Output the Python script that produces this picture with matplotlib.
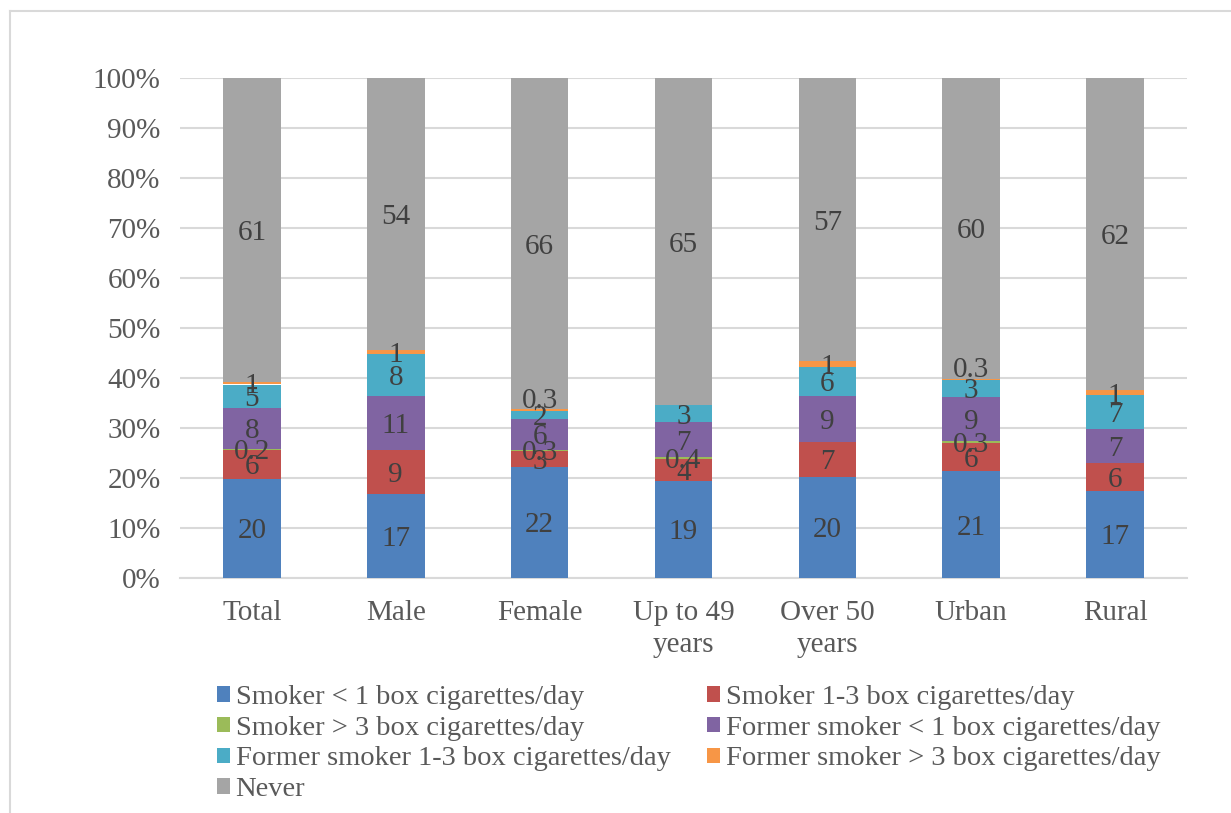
import numpy as np
import matplotlib
matplotlib.use("Agg")
import matplotlib.pyplot as plt
from matplotlib.patches import Patch

plt.rcParams['font.family'] = ['Liberation Serif', 'DejaVu Serif']

categories = ["Total", "Male", "Female", "Up to 49\nyears", "Over 50\nyears", "Urban", "Rural"]
series_names = [
    "Smoker < 1 box cigarettes/day",
    "Smoker 1-3 box cigarettes/day",
    "Smoker > 3 box cigarettes/day",
    "Former smoker < 1 box cigarettes/day",
    "Former smoker 1-3 box cigarettes/day",
    "Former smoker > 3 box cigarettes/day",
    "Never",
]
smoker_lt1 = [19.9, 16.9, 22.3, 19.4, 20.3, 21.4, 17.4]
smoker_1_3 = [5.8, 8.8, 3.1, 4.3, 7.0, 5.7, 5.6]
smoker_gt3 = [0.2, 0.0, 0.3, 0.4, 0.0, 0.3, 0.0]
former_lt1 = [8.1, 10.8, 6.2, 7.1, 9.2, 8.9, 6.7]
former_1_3 = [4.7, 8.3, 1.5, 3.3, 5.8, 3.3, 6.9]
former_gt3 = [0.5, 0.9, 0.3, 0.0, 1.1, 0.3, 0.9]
never = [60.8, 54.4, 66.3, 65.4, 56.6, 60.1, 62.4]

colors = ["#4F81BD", "#C0504D", "#9BBB59", "#8064A2", "#4BACC6", "#F79646", "#A5A5A5"]
text_col = "#595959"
grid_col = "#D9D9D9"


def fmt(v):
    if v < 0.45:
        return f"{v:.1f}"
    return str(int(v + 0.5))


data = np.array([smoker_lt1, smoker_1_3, smoker_gt3, former_lt1, former_1_3, former_gt3, never])
shares = data / data.sum(axis=0) * 100

fig = plt.figure(figsize=(12.31, 8.13), dpi=100)
ax = fig.add_axes([180 / 1231, 1 - 578 / 813, 1007 / 1231, 500 / 813])

x = np.arange(len(categories))
bottom = np.zeros(len(categories))
for i in range(len(series_names)):
    ax.bar(x, shares[i], 0.40, bottom=bottom, color=colors[i], zorder=3)
    for j in range(len(categories)):
        if data[i, j] > 0:
            ypos = bottom[j] + shares[i, j] / 2 - 0.6
            # tiny former-smoker labels sit a little above their sliver
            if i == 5 and data[i, j] < 0.45:
                ypos += 2.4
            ax.text(x[j], ypos, fmt(data[i, j]),
                    ha='center', va='center', fontsize=21, color="#404040", zorder=4)
    bottom += shares[i]

ax.set_xlim(-0.5, len(categories) - 0.5)
ax.set_ylim(0, 100)
ax.set_yticks(np.arange(0, 101, 10))
ax.set_yticklabels([f"{t}%" for t in range(0, 101, 10)])
ax.set_xticks(x)
ax.set_xticklabels(categories, linespacing=1.3)
ax.tick_params(length=0, labelsize=21, colors=text_col)
ax.tick_params(axis='y', pad=14)
ax.tick_params(axis='x', pad=16)
ax.yaxis.grid(True, color=grid_col, lw=1.5, zorder=0)
for s in ["top", "right", "left"]:
    ax.spines[s].set_visible(False)
ax.spines["bottom"].set_color(grid_col)
ax.spines["bottom"].set_linewidth(1.5)

# legend fills row by row in the reference: reorder for matplotlib's column fill
order = [0, 2, 4, 6, 1, 3, 5]
handles = [Patch(facecolor=colors[k], edgecolor='none') for k in order]
labels = [series_names[k] for k in order]
leg = fig.legend(handles, labels, loc='upper left', bbox_to_anchor=(217 / 1231, 1 - 685 / 813),
                 ncol=2, frameon=False, fontsize=20.5, handlelength=0.45, handleheight=0.45,
                 handletextpad=0.2, columnspacing=1.3, labelspacing=0.2, borderpad=0,
                 borderaxespad=0)
for t in leg.get_texts():
    t.set_color(text_col)

# outer chart frame (top and left edges visible)
fig.add_artist(plt.Line2D([10 / 1231, 10 / 1231], [0, 1 - 11 / 813], color=grid_col, lw=1.5))
fig.add_artist(plt.Line2D([10 / 1231, 1], [1 - 11 / 813, 1 - 11 / 813], color=grid_col, lw=1.5))

fig.savefig("out.png", dpi=100, facecolor='white')
